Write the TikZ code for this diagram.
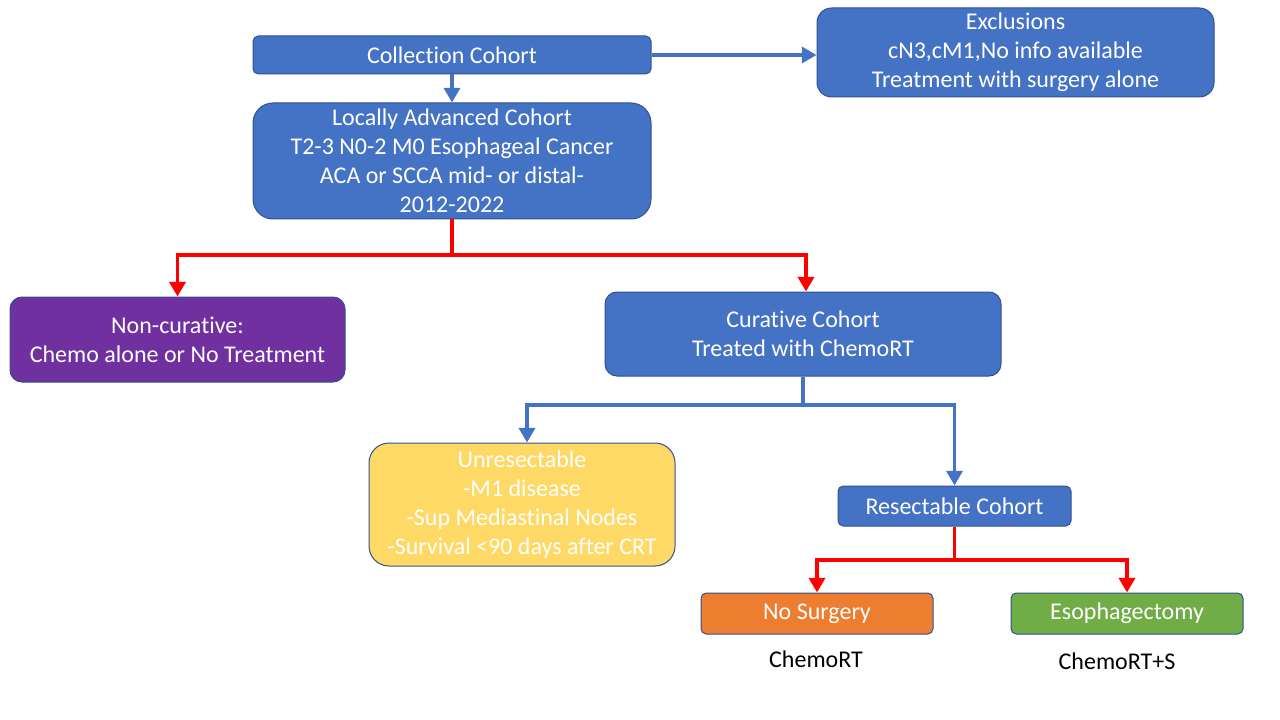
\documentclass[tikz,border=0pt]{standalone}
\usepackage{fontspec}
\setmainfont{Carlito}[Ligatures={NoCommon}]
\usetikzlibrary{arrows.meta}
\definecolor{obl}{HTML}{4472C4}
\definecolor{obd}{HTML}{2F528F}
\definecolor{opu}{HTML}{7030A0}
\definecolor{oye}{HTML}{FFD966}
\definecolor{oor}{HTML}{ED7D31}
\definecolor{ogr}{HTML}{70AD47}
\tikzset{
  box/.style={draw=obd, line width=0.75pt, fill=obl, text=white, align=center,
    font=\fontsize{18}{21.75}\selectfont, inner sep=0pt},
  lbl/.style={text=black, font=\fontsize{18}{21.75}\selectfont, inner sep=0pt},
  bluearr/.style={draw=obl, line width=2.6pt, -{Triangle[length=11pt,width=12pt]}},
  redarr/.style={draw=red, line width=2.8pt, -{Triangle[length=11pt,width=12pt]}},
  blueln/.style={draw=obl, line width=2.6pt},
  redln/.style={draw=red, line width=2.8pt},
}
\begin{document}
\begin{tikzpicture}[x=0.75pt,y=-0.75pt]
\useasboundingbox (0,0) rectangle (1280,720);
\node[box, rounded corners=4pt, minimum width=298.5pt, minimum height=28.5pt] (coll) at (452,55) {Collection Cohort};
\node[box, rounded corners=15pt, minimum width=298.5pt, minimum height=87pt] (loc) at (452,161) {Locally Advanced Cohort\\T2-3 N0-2 M0 Esophageal Cancer\\ACA or SCCA mid- or distal-\\2012-2022};
\node[box, rounded corners=11pt, minimum width=297.75pt, minimum height=66.75pt] (excl) at (1015.5,52.5) {\raisebox{-2pt}{Exclusions}\\\raisebox{-2pt}{cN3,cM1,No info available}\\\raisebox{-2pt}{Treatment with surgery alone}};
\node[box, fill=opu, rounded corners=9pt, minimum width=251.25pt, minimum height=63.75pt] (noncur) at (177.5,339.5) {Non-curative:\\Chemo alone or No Treatment};
\node[box, rounded corners=9pt, minimum width=297pt, minimum height=63pt] (cur) at (803,334) {Curative Cohort\\Treated with ChemoRT};
\node[box, fill=oye, rounded corners=15pt, minimum width=229.5pt, minimum height=92.25pt] (unres) at (522,504.5) {Unresectable\\-M1 disease\\-Sup Mediastinal Nodes\\-Survival <90 days after CRT};
\node[box, rounded corners=4pt, minimum width=174.75pt, minimum height=30pt] (res) at (954.5,506) {Resectable Cohort};
\node[box, fill=oor, rounded corners=4pt, minimum width=174pt, minimum height=30.75pt] (nos) at (817,613.5) {No Surgery};
\node[box, fill=ogr, rounded corners=4pt, minimum width=174pt, minimum height=30.75pt] (eso) at (1127,613.5) {Esophagectomy};
\node[lbl] (l1) at (816,659) {ChemoRT};
\node[lbl] (l2) at (1117,661) {ChemoRT+S};
% connectors
\draw[bluearr] (coll.east) -- (excl.west |- coll.east);
\draw[bluearr] (coll.south) -- (loc.north);
\coordinate (j1) at (452,255);
\draw[redln] (loc.south) -- (j1);
\draw[redarr] (j1) -| (noncur.north);
\draw[redarr] (j1) -| ([xshift=2.25pt]cur.north);
\coordinate (j2) at (803,405);
\draw[blueln] (cur.south) -- (j2);
\draw[bluearr] (j2) -| ([xshift=3.75pt]unres.north);
\draw[bluearr] (j2) -| (res.north);
\coordinate (j3) at (954.5,560);
\draw[redln] (res.south) -- (j3);
\draw[redarr] (j3) -| (nos.north);
\draw[redarr] (j3) -| (eso.north);
\end{tikzpicture}
\end{document}
